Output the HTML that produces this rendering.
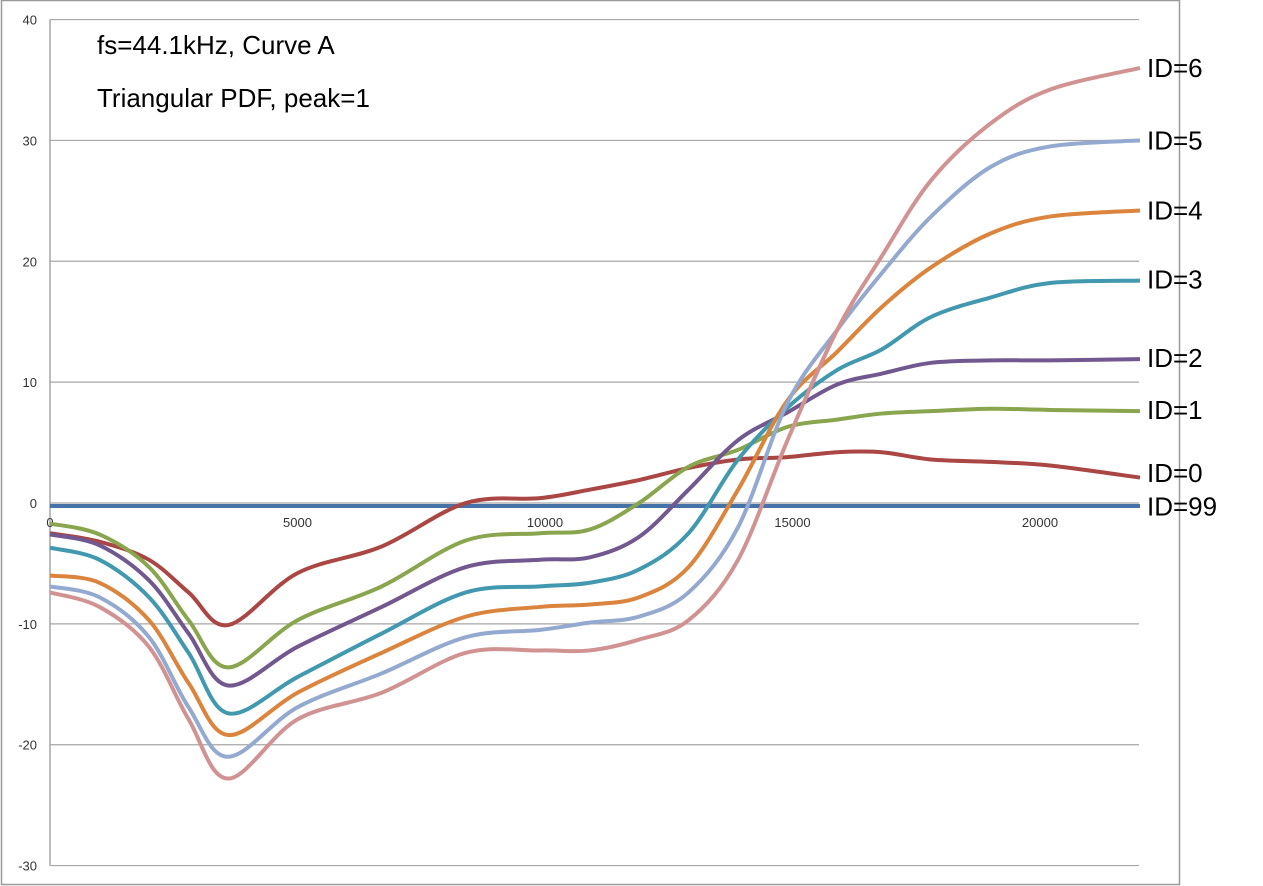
<!DOCTYPE html>
<html><head><meta charset="utf-8"><style>
body{margin:0;background:#fff;}
svg{display:block;font-family:"Liberation Sans",sans-serif;}
</style></head><body>
<svg id="chart" width="1263" height="886" viewBox="0 0 1263 886">
<rect x="1.5" y="0.5" width="1178" height="884" fill="#fff" stroke="#9a9a9a" stroke-width="1.5"/>
<g id="grid"></g><g id="series"></g><g id="labels"></g>
<text x="97" y="54" font-size="26" fill="#000">fs=44.1kHz, Curve A</text>
<text x="97" y="107" font-size="26" fill="#000">Triangular PDF, peak=1</text>
</svg>
<script>
const xs=[0,1000,2000,2800,3600,5000,6700,8400,9900,10900,11900,12900,13900,14900,15900,16800,17800,19000,20200,22020];
const id99=[-0.25,-0.25,-0.25,-0.25,-0.25,-0.25,-0.25,-0.25,-0.25,-0.25,-0.25,-0.25,-0.25,-0.25,-0.25,-0.25,-0.25,-0.25,-0.25,-0.25];
const id0=[-2.5,-3.2,-4.7,-7.4,-10.1,-5.8,-3.6,0,0.4,1.1,1.9,2.9,3.6,3.8,4.2,4.2,3.6,3.4,3.1,2.1];
const id1=[-1.7,-2.6,-5.3,-9.7,-13.6,-9.7,-6.9,-3.1,-2.5,-2.2,0,3,4.4,6.3,6.9,7.4,7.6,7.8,7.7,7.6];
const id2=[-2.6,-3.5,-6.4,-10.8,-15.1,-11.9,-8.6,-5.3,-4.7,-4.5,-2.8,1.1,5.2,7.5,9.8,10.7,11.6,11.8,11.8,11.9];
const id3=[-3.7,-4.7,-7.8,-12.4,-17.4,-14.4,-10.8,-7.4,-6.9,-6.6,-5.5,-2.5,3.6,7.9,11,12.7,15.4,17,18.2,18.4];
const id4=[-6,-6.6,-9.7,-14.9,-19.2,-15.7,-12.4,-9.4,-8.6,-8.4,-7.8,-5.3,1.1,8.5,12.5,16.2,19.5,22.3,23.7,24.2];
const id5=[-6.9,-7.8,-11.1,-16.9,-21,-16.9,-14.1,-11.1,-10.5,-9.9,-9.4,-7.4,-2,8.3,14.3,19,23.7,27.8,29.5,30];
const id6=[-7.4,-8.6,-11.9,-17.9,-22.8,-17.9,-15.7,-12.4,-12.2,-12.2,-11.3,-9.7,-4.7,5.2,14.3,20.4,26.7,31.4,34.2,36];
const names=["ID=99","ID=0","ID=1","ID=2","ID=3","ID=4","ID=5","ID=6"];
const labelVals=[-0.3,2.5,7.7,12,18.5,24.2,30,36];
const yTicks=[40,30,20,10,0,-10,-20,-30];
const xTicks=[0,5000,10000,15000,20000];
const all=[id99,id0,id1,id2,id3,id4,id5,id6];
const colors=["#4572a7","#aa4643","#89a54e","#71588f","#4198af","#db843d","#93a9cf","#d19392"];
const NS="http://www.w3.org/2000/svg";
const X=v=>50+v*0.0495, Y=v=>503-v*12.086;
function mk(t,a,p){const e=document.createElementNS(NS,t);for(const k in a)e.setAttribute(k,a[k]);p.appendChild(e);return e;}
const grid=document.getElementById('grid'), ser=document.getElementById('series'), lab=document.getElementById('labels');
yTicks.forEach(t=>{
  const l=mk('line',{x1:50,x2:1139,y1:Y(t),y2:Y(t),stroke:'#a6a6a6','stroke-width':1.2},grid);
  
  
  const tx=mk('text',{x:37,y:Y(t)+5,'text-anchor':'end','font-size':13,fill:'#333'},grid);
  tx.textContent=t;
  
  
});
const ax=mk('line',{x1:50,x2:50,y1:Y(40),y2:Y(-30),stroke:'#a6a6a6','stroke-width':1.5},grid);


xTicks.forEach(t=>{
  const tx=mk('text',{x:X(t),y:527,'text-anchor':'middle','font-size':13,fill:'#333'},grid);
  tx.textContent=t;
  
  
});
function path(vals){
  const p=xs.map((x,i)=>[X(x),Y(vals[i])]);
  let d='M'+p[0][0]+','+p[0][1];
  for(let i=0;i<p.length-1;i++){
    const p0=p[i-1]||p[i],p1=p[i],p2=p[i+1],p3=p[i+2]||p2;
    const c1=[p1[0]+(p2[0]-p0[0])/6,p1[1]+(p2[1]-p0[1])/6];
    const c2=[p2[0]-(p3[0]-p1[0])/6,p2[1]-(p3[1]-p1[1])/6];
    d+=` C${c1[0]},${c1[1]} ${c2[0]},${c2[1]} ${p2[0]},${p2[1]}`;
  }
  return d;
}
all.forEach((s,i)=>{
  const e=mk('path',{d:path(s),fill:'none',stroke:colors[i],'stroke-width':4,'stroke-linejoin':'round'},ser);
  
  
  const t=mk('text',{x:1147,y:Y(labelVals[i])+9,'font-size':26,fill:'#000'},lab);
  t.textContent=names[i];
  
  
});
</script>
</body></html>
